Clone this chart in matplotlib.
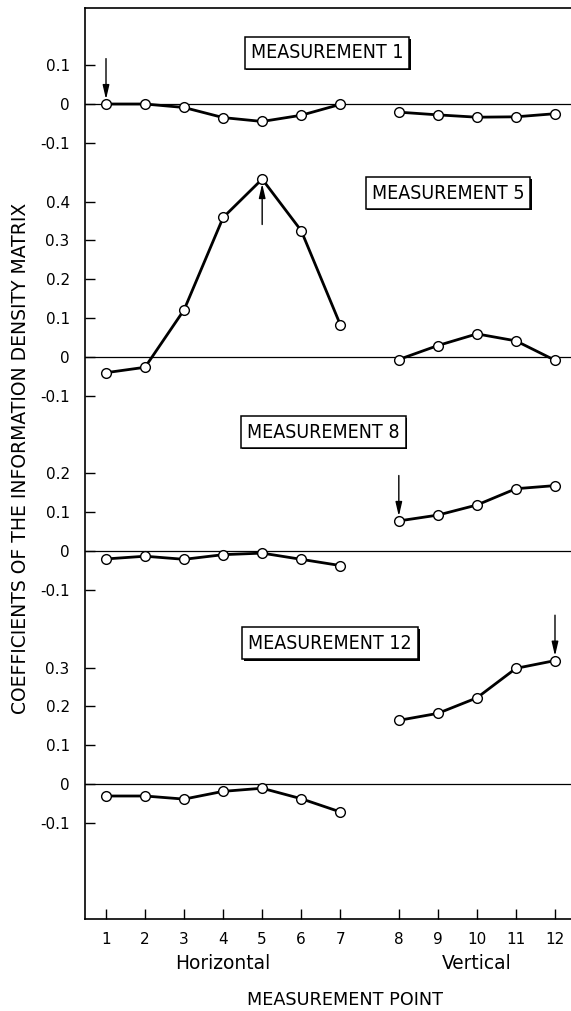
import matplotlib
matplotlib.use('Agg')
import matplotlib.pyplot as plt
import matplotlib.patheffects as pe

# ---------------- data ----------------
point_labels = ['1', '2', '3', '4', '5', '6', '7', '8', '9', '10', '11', '12']
horiz_pos = [1, 2, 3, 4, 5, 6, 7]
vert_pos = [8.5, 9.5, 10.5, 11.5, 12.5]

m1_h = [0.0, 0.0, -0.009, -0.035, -0.045, -0.029, -0.001]
m1_v = [-0.021, -0.028, -0.034, -0.033, -0.025]
m5_h = [-0.041, -0.027, 0.121, 0.359, 0.458, 0.325, 0.083]
m5_v = [-0.007, 0.029, 0.059, 0.041, -0.009]
m8_h = [-0.021, -0.014, -0.022, -0.010, -0.006, -0.022, -0.038]
m8_v = [0.077, 0.092, 0.118, 0.160, 0.168]
m12_h = [-0.031, -0.031, -0.039, -0.019, -0.011, -0.038, -0.072]
m12_v = [0.164, 0.182, 0.222, 0.298, 0.318]

panel_names = ['MEASUREMENT 1', 'MEASUREMENT 5', 'MEASUREMENT 8', 'MEASUREMENT 12']
panel_ticks = [[-0.1, 0, 0.1],
               [-0.1, 0, 0.1, 0.2, 0.3, 0.4],
               [-0.1, 0, 0.1, 0.2],
               [-0.1, 0, 0.1, 0.2, 0.3]]
# measurement point marked by arrow (1-based) and arrow direction
arrow_point = [1, 5, 8, 12]
arrow_dir = ['down', 'up', 'down', 'down']

# ---------------- layout ----------------
offsets = [2.1005, 1.449, 0.949, 0.348]
label_dx = [6.66, 9.76, 6.56, 6.74]
label_dy = [0.132, 0.422, 0.306, 0.363]

fig = plt.figure(figsize=(5.71, 10.11), dpi=100)
ax = fig.add_axes([85 / 571, 1 - 919 / 1011, 1 - 85 / 571, 911 / 1011])
ax.set_xlim(0.462, 12.91)
ax.set_ylim(0, 911 / 388)

series_h = [m1_h, m5_h, m8_h, m12_h]
series_v = [m1_v, m5_v, m8_v, m12_v]
all_pos = horiz_pos + vert_pos

yt, ytl = [], []
for k in range(4):
    off = offsets[k]
    ax.axhline(off, color='black', lw=0.9, zorder=1)
    for vals, pos in ((series_h[k], horiz_pos), (series_v[k], vert_pos)):
        ax.plot(pos, [off + v for v in vals], color='black', lw=2.0,
                marker='o', markersize=7, markerfacecolor='white',
                markeredgecolor='black', markeredgewidth=1.0, zorder=3)
    for t in panel_ticks[k]:
        yt.append(off + t)
        ytl.append('0' if t == 0 else ('%g' % t))
    txt = ax.text(label_dx[k], off + label_dy[k], panel_names[k], ha='center', va='center',
                  fontsize=14, family='DejaVu Sans', fontstretch='condensed',
                  bbox=dict(boxstyle='square,pad=0.32', fc='white', ec='black', lw=1.1))
    txt.get_bbox_patch().set_path_effects(
        [pe.SimplePatchShadow(offset=(1.2, -1.2), shadow_rgbFace='black', alpha=1.0),
         pe.Normal()])
    # arrow
    idx = arrow_point[k] - 1
    allvals = series_h[k] + series_v[k]
    px = all_pos[idx]
    py = off + allvals[idx]
    if arrow_dir[k] == 'down':
        tip = py + 0.012
        tail = tip + 0.105
    else:
        tip = py - 0.012
        tail = tip - 0.105
    ax.annotate('', xy=(px, tip), xytext=(px, tail),
                arrowprops=dict(arrowstyle='-|>,head_length=0.6,head_width=0.14',
                                color='black', lw=1.0,
                                mutation_scale=14, shrinkA=0, shrinkB=0), zorder=4)

ax.set_yticks(yt)
ax.set_yticklabels(ytl)
ax.set_xticks(all_pos)
ax.set_xticklabels(point_labels)
ax.tick_params(axis='y', direction='in', length=7, width=1, labelsize=11, pad=11)
ax.tick_params(axis='x', direction='in', length=7, width=1, labelsize=11, pad=9)
for s in ('top', 'left', 'bottom'):
    ax.spines[s].set_linewidth(1.2)
ax.spines['right'].set_visible(False)

fig.text(21 / 571, 1 - 458 / 1011, 'COEFFICIENTS OF THE INFORMATION DENSITY MATRIX',
         rotation=90, ha='center', va='center', fontsize=13.5)
ax.text(4, -0.115, 'Horizontal', ha='center', va='center', fontsize=13.4)
ax.text(10.5, -0.115, 'Vertical', ha='center', va='center', fontsize=13.4)
fig.text(345 / 571, 1 - 1000 / 1011, 'MEASUREMENT POINT', ha='center', va='center',
         fontsize=12.7)

fig.savefig('out.png', dpi=100)
